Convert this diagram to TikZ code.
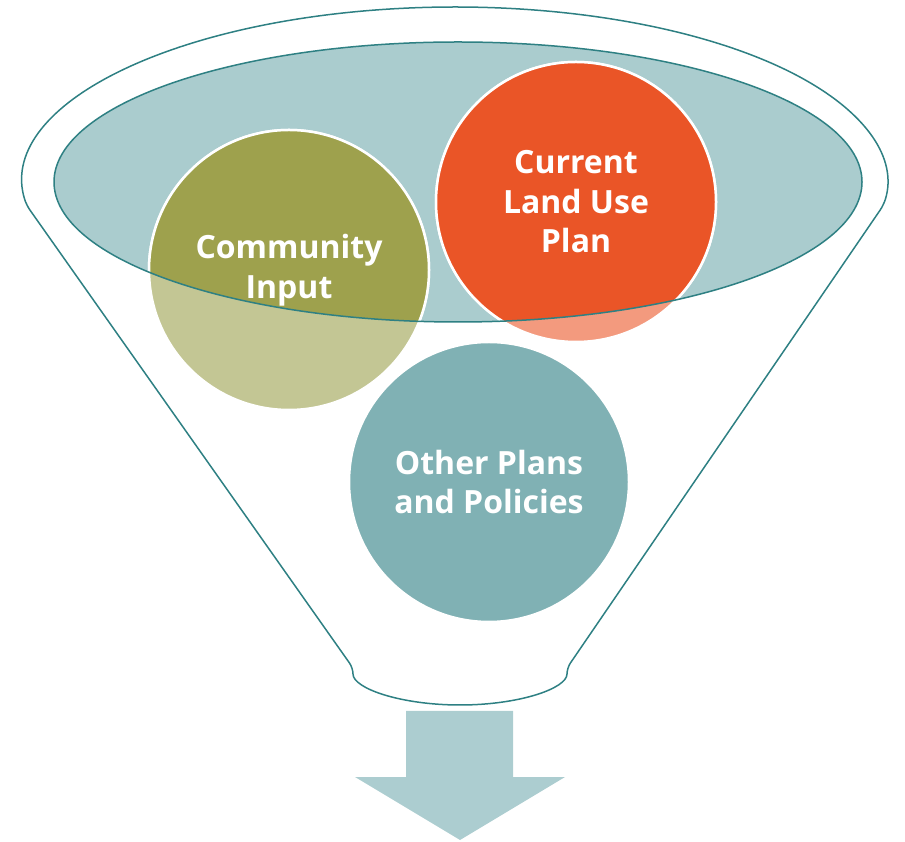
\documentclass[tikz,border=0pt]{standalone}
\usepackage{fontspec}
\setmainfont{Open Sans}
\usetikzlibrary{calc}
\definecolor{funnelline}{HTML}{2E8083}
\definecolor{rimfill}{HTML}{AACCCE}
\definecolor{olivec}{HTML}{9EA14D}
\definecolor{olivelight}{HTML}{C3C694}
\definecolor{orangec}{HTML}{EA5527}
\definecolor{orangelight}{HTML}{F39A7E}
\definecolor{tealc}{HTML}{80B1B4}
\definecolor{arrowc}{HTML}{ACCDD0}
\tikzset{
  lbl/.style={text=white, font=\bfseries\fontsize{32}{39.5}\selectfont, align=center},
  blob/.style={circle, minimum size=280pt, inner sep=0pt, draw=white, line width=2.5pt}
}
\begin{document}
\begin{tikzpicture}[x=1pt,y=1pt]
                \useasboundingbox (0,0) rectangle (905,841);
                % funnel
                \draw[funnelline, line width=1.5pt, fill=white, rounded corners=6pt]
                    ($(455,658)+(187.2:432 and 176)$) arc[start angle=187.2, end angle=-7.2, x radius=432, y radius=176]
                    -- (567,173) arc[start angle=0, end angle=-180, x radius=107, y radius=37] -- cycle;
                % rim
                \fill[rimfill] (458,659) ellipse[x radius=404, y radius=140];
                % circles
                \node[blob, fill=tealc] (other) at (489,359) {};
                \node[blob, fill=olivelight] (community) at (289,571) {};
                \node[blob, fill=orangelight] (current) at (576,639) {};
                \begin{scope}
                    \clip (458,659) ellipse[x radius=404, y radius=140];
                    \fill[olivec, draw=white, line width=2.5pt] (community.center) circle (140);
                    \fill[orangec, draw=white, line width=2.5pt] (current.center) circle (140);
                \end{scope}
                \draw[funnelline, line width=1.5pt] (458,659) ellipse[x radius=404, y radius=140];
                % labels
                \node[lbl] (communitytext) at (community) {Community\\Input};
                \node[lbl] (currenttext) at (current) {Current\\Land Use\\Plan};
                \node[lbl] (othertext) at (other) {Other Plans\\and Policies};
                % arrow
                \fill[arrowc] (406,130) -- (513,130) -- (513,64) -- (565,64) -- (460,1) -- (355,64) -- (406,64) -- cycle;
\end{tikzpicture}
\end{document}
